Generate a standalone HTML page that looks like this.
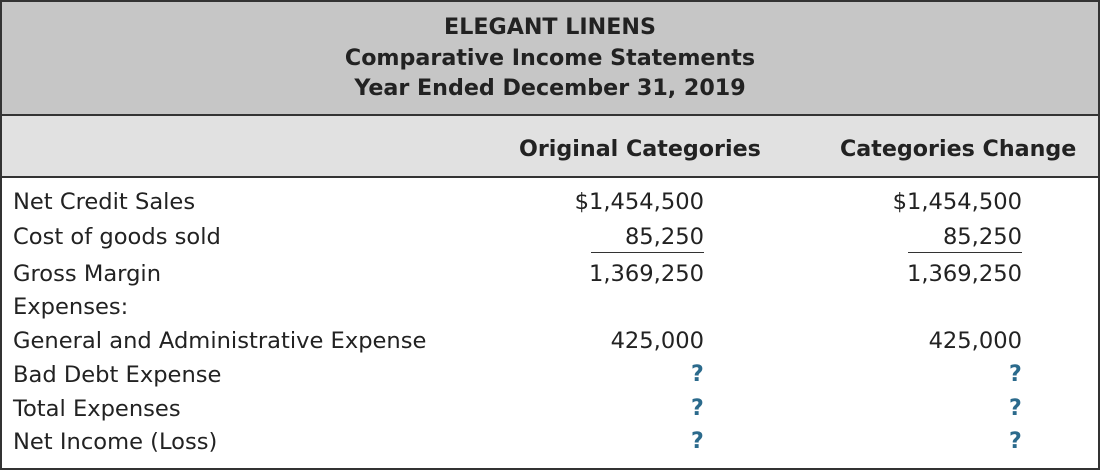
<!DOCTYPE html>
<html><head><style>
body{margin:0;width:1100px;height:470px;background:#fff;font-family:"DejaVu Sans","Liberation Sans",sans-serif;color:#222;}
#box{position:absolute;left:0;top:0;width:1096px;height:466px;border:2px solid #333;overflow:hidden}
.h1{position:absolute;left:0;top:0;width:1096px;height:112px;background:#c6c6c6;border-bottom:2px solid #333}
.h2{position:absolute;left:0;top:114px;width:1096px;height:60px;background:#e1e1e1;border-bottom:2px solid #333}
.t{position:absolute;white-space:nowrap;font-size:22.6px;line-height:24px}
.c{width:1096px;text-align:center;left:0;font-weight:bold;font-size:22.2px}
.b{font-weight:bold;font-size:22.2px}
.r{text-align:right}
.q{color:#2b6a8c;font-weight:bold;font-size:22px}
.ul{position:absolute;height:1px;background:#333}
</style></head><body>
<div id="box">
<div class="h1"></div><div class="h2"></div>
<div class="t c" style="top:13px">ELEGANT LINENS</div>
<div class="t c" style="top:44px">Comparative Income Statements</div>
<div class="t c" style="top:74px">Year Ended December 31, 2019</div>
<div class="t b" style="left:517px;top:135px">Original Categories</div>
<div class="t b" style="left:838px;top:135px">Categories Change</div>

<div class="t" style="left:11px;top:188px">Net Credit Sales</div>
<div class="t" style="left:11px;top:223px">Cost of goods sold</div>
<div class="t" style="left:11px;top:260px">Gross Margin</div>
<div class="t" style="left:11px;top:293px">Expenses:</div>
<div class="t" style="left:11px;top:327px">General and Administrative Expense</div>
<div class="t" style="left:11px;top:361px">Bad Debt Expense</div>
<div class="t" style="left:11px;top:395px">Total Expenses</div>
<div class="t" style="left:11px;top:428px">Net Income (Loss)</div>

<div class="t r" style="right:394px;top:188px">$1,454,500</div>
<div class="t r" style="right:394px;top:223px">85,250</div>
<div class="ul" style="left:589px;top:250px;width:113px"></div>
<div class="t r" style="right:394px;top:260px">1,369,250</div>
<div class="t r" style="right:394px;top:327px">425,000</div>
<div class="t q" style="left:689px;top:361px">?</div>
<div class="t q" style="left:689px;top:395px">?</div>
<div class="t q" style="left:689px;top:428px">?</div>

<div class="t r" style="right:76px;top:188px">$1,454,500</div>
<div class="t r" style="right:76px;top:223px">85,250</div>
<div class="ul" style="left:906px;top:250px;width:114px"></div>
<div class="t r" style="right:76px;top:260px">1,369,250</div>
<div class="t r" style="right:76px;top:327px">425,000</div>
<div class="t q" style="left:1007px;top:361px">?</div>
<div class="t q" style="left:1007px;top:395px">?</div>
<div class="t q" style="left:1007px;top:428px">?</div>
</div>
</body></html>
